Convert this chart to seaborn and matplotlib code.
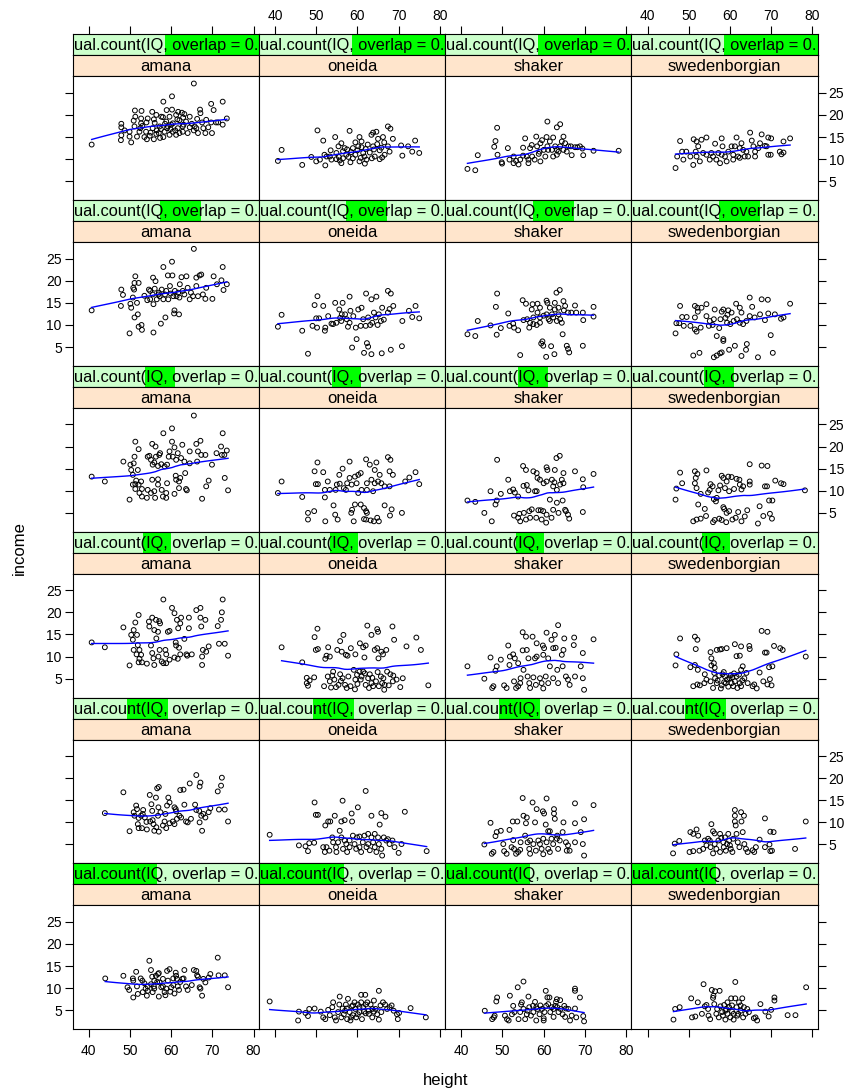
import numpy as np
import matplotlib
matplotlib.use("Agg")
import matplotlib.pyplot as plt
from matplotlib.patches import Rectangle
import seaborn as sns

# ---- data: (height, income) per community and IQ shingle level ----
# level 1 = lowest IQ (bottom row), level 6 = highest IQ (top row)
amana_iq6 = [(40.7,13.3),(47.9,18.0),(47.9,17.2),(48.7,16.5),(47.9,15.4),(47.8,14.3),(50.3,13.8),(49.9,15.1),(51.7,15.1),(49.9,16.2),(51.1,17.4),(50.9,18.7),(51.3,19.6),(51.2,21.0),(52.8,20.9),(52.7,19.2),(52.7,18.1),(52.3,16.2),(53.9,16.2),(54.1,14.5),(54.3,19.2),(54.8,15.3),(55.4,20.7),(55.5,17.0),(55.8,14.5),(56.4,20.0),(56.4,15.7),(57.0,15.9),(57.2,17.4),(57.6,19.6),(58.1,23.0),(58.1,15.0),(58.4,16.2),(58.8,18.5),(58.9,21.1),(59.2,17.4),(59.6,19.6),(59.6,15.5),(60.2,24.2),(60.2,21.2),(60.4,18.1),(60.4,16.2),(61.2,20.0),(61.2,15.5),(61.6,17.0),(61.7,20.7),(62.0,15.9),(62.6,20.5),(62.8,17.4),(62.8,16.2),(62.9,19.4),(63.6,18.5),(64.0,15.9),(64.5,19.6),(65.0,18.0),(65.5,27.1),(65.7,17.4),(66.1,17.0),(66.3,19.1),(66.5,15.9),(67.0,21.2),(67.1,20.4),(67.8,17.0),(68.3,15.9),(68.5,18.9),(69.7,22.5),(69.7,18.3),(69.9,15.9),(70.3,21.1),(70.9,18.3),(71.4,18.3),(72.5,23.0),(72.5,17.8),(73.5,19.2),(53.0,17.5),(56.0,18.2),(57.5,16.8),(59.0,17.0),(60.0,17.8),(61.0,16.5),(62.0,18.8),(63.0,17.8),(64.5,17.2),(58.0,19.5),(55.0,16.0),(56.5,16.5),(52.5,17.0),(54.0,18.3),(55.8,19.0),(58.5,18.0),(59.8,16.8),(61.5,19.0),(63.2,20.2),(65.5,16.5),(67.5,18.3),(69.0,17.2),(53.5,15.0),(57.3,14.8)]
oneida_iq6 = [(40.7,9.6),(41.6,12.1),(46.6,8.7),(50.3,16.5),(51.7,14.2),(48.8,10.5),(50.0,9.5),(50.9,9.9),(52.2,8.6),(52.5,10.6),(54.6,15.0),(55.4,12.9),(54.9,11.4),(56.1,13.6),(58.1,16.4),(56.9,12.5),(56.1,9.1),(57.3,11.0),(58.9,12.5),(60.5,15.0),(60.2,12.9),(61.0,14.0),(61.4,11.4),(62.2,9.9),(63.4,15.5),(63.8,16.0),(64.6,16.2),(65.0,14.6),(63.8,12.9),(65.4,12.0),(66.2,15.0),(67.4,17.4),(68.0,16.9),(68.6,14.6),(67.4,12.9),(67.8,11.7),(66.6,11.0),(70.6,13.1),(70.9,10.8),(72.3,12.9),(73.3,11.7),(74.0,14.2),(75.0,11.4),(58.9,10.2),(60.5,9.5),(61.7,10.6),(64.2,10.6),(65.4,10.0),(54.9,10.0),(53.7,9.9),(53.3,10.6),(56.5,10.2),(55.5,10.5),(56.5,11.8),(57.5,12.2),(58.5,11.6),(59.5,11.0),(60.0,12.0),(61.0,12.7),(62.0,12.3),(63.0,11.5),(64.0,12.2),(64.8,13.4),(65.8,12.6),(66.5,13.8),(62.5,13.3),(59.5,13.8),(57.8,10.5),(60.8,10.3),(63.5,10.2),(66.0,10.4),(55.7,9.7),(58.3,9.3),(61.8,9.0),(53.5,12.0),(52.0,11.0)]
shaker_iq6 = [(41.5,7.8),(43.4,7.5),(44.0,10.9),(48.7,17.1),(48.3,14.1),(48.0,12.8),(48.8,11.0),(51.3,12.5),(49.8,9.3),(49.9,9.0),(51.7,9.9),(52.7,10.6),(52.7,9.1),(53.9,8.8),(55.0,12.6),(55.5,14.7),(55.9,10.6),(56.3,9.1),(56.7,12.5),(57.1,13.2),(58.2,15.1),(58.4,12.9),(58.8,11.2),(59.2,9.5),(60.9,18.5),(60.7,15.0),(60.9,12.9),(61.5,14.0),(62.3,14.9),(63.2,17.2),(64.0,17.9),(62.8,12.9),(62.3,10.6),(64.0,12.9),(64.8,15.1),(65.2,13.6),(66.0,12.9),(66.8,10.9),(67.6,12.7),(68.8,12.9),(69.6,10.9),(69.4,12.4),(72.1,11.9),(78.2,11.9),(57.8,9.9),(57.2,10.6),(59.0,11.7),(60.0,12.1),(60.4,10.6),(63.2,12.1),(63.6,11.7),(64.8,12.1),(65.6,11.7),(63.2,11.0),(54.3,9.9),(55.0,10.8),(53.3,9.6),(56.3,9.9),(59.6,14.3),(59.2,13.6),(61.1,12.1),(62.0,12.1),(64.4,14.0),(66.6,12.9),(68.2,12.7)]
swedenborgian_iq6 = [(46.8,8.0),(47.2,10.6),(47.9,14.1),(48.4,11.7),(49.4,11.7),(48.7,9.9),(50.4,10.6),(51.1,8.7),(51.2,14.5),(51.9,14.0),(52.3,12.9),(51.7,11.7),(51.9,10.6),(53.1,14.4),(54.3,14.9),(52.7,9.5),(54.3,11.0),(55.1,9.9),(56.4,13.5),(57.2,11.4),(58.0,14.7),(58.2,12.9),(57.6,9.1),(58.8,10.6),(59.2,9.5),(59.6,11.7),(60.4,12.9),(60.8,11.0),(61.6,14.9),(62.0,10.6),(62.8,13.6),(63.2,12.1),(63.6,10.6),(64.9,16.0),(65.3,14.2),(65.7,12.9),(66.1,11.7),(66.1,10.6),(67.7,15.6),(69.3,14.9),(70.0,14.7),(68.9,12.9),(69.3,11.0),(69.9,11.0),(72.1,11.7),(72.5,11.1),(73.0,11.5),(73.0,14.0),(74.6,14.7),(60.8,9.9),(62.4,10.3),(64.4,10.6),(64.0,11.7),(55.5,11.4),(55.9,10.6),(56.7,9.9),(53.5,11.4),(66.9,12.5),(67.3,13.6),(68.5,13.0),(62.4,12.5),(61.2,12.9),(58.0,11.0)]

amana_iq5 = [(40.7,13.3),(47.9,18.0),(48.3,16.8),(47.8,14.3),(50.3,13.9),(50.1,14.8),(50.7,16.2),(51.0,18.0),(50.8,18.4),(51.3,21.0),(52.1,19.5),(51.1,19.5),(51.7,15.0),(51.1,11.7),(51.9,12.4),(52.1,9.6),(52.8,10.0),(52.9,8.9),(49.9,8.1),(55.7,8.3),(57.5,10.3),(58.6,11.7),(60.8,13.3),(60.7,12.6),(61.9,12.4),(58.1,23.1),(60.2,24.3),(65.5,27.2),(72.5,23.1),(70.3,21.0),(72.2,20.1),(73.5,19.2),(72.7,17.9),(71.1,19.2),(70.0,15.9),(68.3,15.9),(66.9,21.2),(67.3,21.4),(66.1,20.7),(63.7,21.0),(62.5,20.8),(60.3,21.2),(59.2,21.2),(55.6,20.7),(56.2,19.9),(54.6,18.0),(54.9,17.7),(55.5,16.9),(55.7,14.7),(54.2,15.6),(56.5,15.8),(57.2,16.5),(57.7,18.0),(58.5,16.9),(59.7,18.8),(60.9,17.7),(61.3,16.5),(62.1,19.2),(62.8,17.7),(64.0,18.4),(64.5,15.8),(65.3,16.5),(66.1,18.8),(66.5,16.5),(67.7,16.9),(68.5,18.4),(59.3,15.8),(60.5,16.5),(58.1,15.8),(56.9,16.9),(61.7,17.3),(63.2,16.9),(58.8,17.7),(54.9,15.8),(57.0,17.3),(59.9,17.1),(62.0,16.2),(64.8,17.3),(56.0,18.2),(53.5,16.6)]
oneida_iq5 = [(40.7,9.6),(41.6,12.3),(46.6,8.7),(48.0,3.5),(50.3,16.5),(49.6,14.5),(51.7,14.3),(50.0,11.5),(50.7,11.5),(49.1,9.8),(50.2,9.4),(52.2,9.4),(52.1,8.7),(52.9,12.0),(54.6,15.0),(56.4,15.0),(55.6,13.5),(56.2,12.4),(58.1,16.4),(58.3,13.2),(59.8,6.8),(58.7,4.9),(61.6,3.7),(62.3,5.9),(62.6,5.1),(63.4,3.4),(65.9,3.6),(68.1,4.4),(70.8,5.2),(62.1,17.1),(63.4,15.8),(64.6,16.4),(67.4,17.7),(68.1,17.1),(68.7,14.3),(67.4,12.8),(72.5,13.2),(74.1,14.3),(73.3,11.8),(75.0,11.5),(70.9,10.9),(60.2,13.5),(61.0,13.9),(59.0,12.0),(57.4,11.3),(54.1,10.2),(54.9,10.5),(56.1,10.9),(58.1,10.5),(59.6,9.4),(60.8,9.8),(62.0,9.8),(63.6,10.5),(64.4,11.7),(65.2,12.4),(64.0,12.8),(66.0,13.9),(66.4,11.2),(57.0,12.4),(55.8,11.6),(61.4,11.3),(62.6,11.7),(57.7,9.6),(53.7,10.3),(67.8,13.6),(63.1,10.0),(64.9,10.0),(65.7,10.9)]
shaker_iq5 = [(41.5,7.9),(43.4,7.5),(44.0,10.9),(47.1,9.9),(48.7,17.1),(48.4,14.1),(48.6,7.8),(49.6,9.3),(51.4,12.6),(51.7,9.8),(52.6,10.3),(52.8,9.4),(53.8,8.8),(54.3,3.2),(54.9,15.6),(55.7,14.8),(55.1,11.1),(56.0,11.3),(56.5,9.4),(57.1,13.5),(57.3,14.7),(58.5,14.8),(58.5,12.8),(58.3,10.0),(59.1,10.5),(59.4,5.8),(59.9,5.3),(59.7,6.3),(60.6,2.8),(61.8,5.2),(62.6,3.4),(60.7,15.5),(60.9,15.0),(61.5,13.9),(62.7,15.0),(63.1,17.3),(63.9,17.9),(62.3,11.7),(63.2,10.9),(64.4,10.5),(64.8,15.4),(64.9,13.3),(64.6,7.9),(65.6,5.3),(66.2,3.8),(65.9,4.6),(67.6,14.4),(69.5,12.8),(69.6,11.1),(69.5,5.3),(72.1,14.1),(72.1,11.9),(60.0,12.1),(60.7,12.4),(61.2,11.3),(62.0,12.4),(63.6,12.4),(64.0,11.3),(65.9,12.8),(66.7,12.8),(67.9,12.8),(57.5,10.2),(59.1,13.9),(59.1,11.7),(57.5,11.7),(62.7,13.5),(63.6,13.9),(65.2,14.3),(61.5,10.9),(56.7,10.5)]
swedenborgian_iq5 = [(46.8,8.1),(47.0,10.4),(47.9,14.3),(47.7,10.4),(48.4,11.8),(49.5,11.8),(48.8,9.8),(50.4,9.8),(51.1,3.1),(52.6,3.7),(51.5,14.3),(52.1,13.9),(53.1,13.9),(54.3,14.7),(52.2,13.0),(51.5,11.7),(51.5,9.0),(52.9,9.4),(51.9,8.5),(54.3,12.0),(55.1,10.9),(54.9,9.8),(56.3,13.5),(55.8,10.0),(56.8,7.5),(57.4,9.3),(58.4,6.4),(58.4,6.8),(56.1,2.7),(56.8,3.1),(57.6,3.6),(58.0,3.8),(59.8,4.4),(61.2,5.3),(62.8,3.0),(64.1,5.7),(63.9,4.4),(66.8,2.7),(69.9,7.7),(70.4,3.7),(58.0,13.0),(58.4,13.5),(59.6,13.3),(59.4,12.3),(60.4,12.8),(61.5,14.8),(62.4,13.9),(62.8,12.8),(61.7,11.3),(62.4,10.5),(63.2,10.2),(64.0,10.9),(64.8,16.2),(65.4,14.1),(64.8,12.0),(67.7,15.8),(69.2,15.7),(68.5,11.1),(69.3,12.6),(70.9,12.4),(72.4,11.4),(73.0,11.7),(74.6,14.8),(60.9,10.9),(59.3,10.5),(57.7,11.3),(56.1,11.3),(58.9,11.6),(66.0,11.7),(67.3,12.4),(60.1,10.2)]

amana_iq4 = [(40.7,13.2),(43.9,12.1),(48.4,16.6),(50.1,15.9),(50.3,14.7),(50.7,13.6),(50.9,16.2),(51.3,21.1),(51.1,17.7),(52.1,19.4),(51.9,14.7),(49.9,8.0),(50.7,11.4),(51.3,11.5),(51.5,12.3),(52.1,11.4),(52.7,12.1),(51.3,10.4),(52.3,9.5),(52.9,8.7),(54.1,8.4),(54.3,10.2),(52.9,10.4),(55.1,9.5),(55.9,9.9),(56.1,8.4),(55.4,12.5),(56.8,12.6),(56.8,11.4),(58.0,8.7),(58.8,8.4),(59.0,11.7),(57.7,10.2),(60.8,9.3),(61.1,13.4),(61.2,12.5),(61.9,12.1),(62.2,12.9),(61.9,10.6),(63.4,14.0),(63.6,10.4),(63.8,10.1),(58.1,23.0),(60.2,24.1),(65.5,27.0),(72.5,23.0),(60.2,21.1),(60.8,19.8),(62.7,20.4),(55.4,20.6),(56.2,20.0),(54.3,17.7),(54.7,17.9),(55.1,17.0),(56.3,17.7),(57.1,18.1),(57.3,18.5),(55.5,15.9),(55.9,16.4),(56.8,15.6),(57.6,16.0),(58.4,15.5),(59.0,15.9),(59.4,17.7),(59.6,18.9),(60.4,17.7),(61.2,17.0),(61.6,18.5),(62.4,17.4),(63.2,16.6),(64.5,18.9),(66.1,20.6),(67.1,21.3),(66.5,18.9),(67.3,18.1),(68.3,18.1),(66.3,16.6),(64.5,16.2),(69.9,15.9),(72.1,20.0),(72.3,18.1),(72.9,18.1),(71.0,18.5),(73.5,19.1),(73.0,12.9),(68.5,11.0),(69.1,12.3),(73.8,10.1),(67.5,8.2),(58.8,9.5)]
oneida_iq4 = [(40.7,9.5),(41.6,12.1),(46.6,8.6),(48.0,5.0),(49.5,5.4),(48.0,3.5),(52.2,3.1),(50.3,16.4),(49.6,14.4),(51.7,14.2),(49.9,11.5),(50.4,11.5),(52.1,10.2),(52.1,8.5),(52.8,12.1),(54.2,6.7),(54.6,4.6),(55.2,3.5),(53.3,10.2),(55.0,11.4),(55.7,11.6),(55.6,13.6),(56.4,15.0),(57.2,10.2),(58.1,16.6),(58.1,12.9),(59.4,13.2),(60.2,13.6),(60.8,14.0),(58.6,11.4),(59.8,11.7),(60.2,9.5),(61.0,10.2),(62.1,17.1),(63.0,15.9),(64.6,16.4),(64.2,14.7),(63.4,12.5),(64.2,11.7),(65.0,12.1),(65.8,11.7),(66.6,11.0),(67.8,11.0),(67.4,17.6),(68.0,17.0),(68.6,13.6),(67.8,14.4),(71.6,12.1),(72.6,13.0),(74.1,14.2),(75.0,11.5),(58.5,5.0),(58.7,5.7),(59.4,6.9),(60.8,6.9),(61.6,6.1),(62.1,5.4),(62.3,5.0),(59.1,3.1),(61.6,3.6),(62.1,3.5),(63.2,3.3),(64.0,3.1),(64.8,3.9),(65.2,3.1),(66.6,6.7),(68.3,5.8),(67.9,4.4),(70.8,5.0),(57.5,11.7),(56.7,10.6),(54.7,10.2),(62.3,11.7),(62.3,10.2),(65.4,13.6),(63.8,9.9)]
shaker_iq4 = [(41.5,7.8),(43.4,7.5),(45.6,5.0),(47.4,3.1),(47.1,9.9),(48.3,6.9),(48.6,7.8),(48.7,17.0),(49.6,9.3),(51.4,12.5),(51.8,9.9),(52.6,10.3),(53.0,9.6),(53.8,8.7),(52.8,4.4),(54.3,3.1),(54.1,4.8),(55.0,15.6),(55.1,11.1),(55.9,11.3),(55.7,14.7),(56.3,10.1),(56.7,3.9),(57.1,5.8),(57.5,14.4),(58.3,14.0),(58.3,9.9),(58.5,12.9),(59.1,12.5),(59.3,5.6),(59.9,5.4),(60.6,2.8),(60.7,15.3),(60.9,14.7),(61.5,8.0),(62.7,14.7),(63.1,17.4),(63.9,17.9),(62.6,11.9),(63.2,10.2),(64.0,11.4),(64.6,7.8),(64.8,14.0),(65.4,5.4),(66.2,3.7),(65.9,4.6),(67.6,14.4),(69.5,12.6),(69.6,10.8),(69.5,5.2),(72.1,13.8),(60.0,11.7),(60.7,12.1),(62.0,12.5),(62.3,11.0),(64.4,12.5),(64.8,11.7),(57.9,9.9),(59.5,3.5),(61.9,3.9),(63.2,7.3),(63.6,5.0),(65.2,5.7),(58.2,3.9),(55.2,5.0),(56.5,5.4),(58.7,5.6),(60.7,4.6),(62.3,5.7),(55.7,3.5),(53.8,3.9)]
swedenborgian_iq4 = [(46.8,8.0),(47.0,10.5),(47.9,14.1),(48.4,11.7),(51.5,14.4),(52.1,13.8),(51.7,12.9),(54.3,14.6),(51.5,11.7),(51.9,10.6),(52.9,9.3),(51.1,3.1),(51.9,3.5),(52.9,3.7),(54.2,4.3),(52.3,6.9),(53.9,5.9),(54.7,9.6),(55.3,11.5),(55.8,11.0),(56.1,8.1),(56.6,7.6),(56.8,8.4),(58.4,6.3),(58.6,5.9),(59.2,5.0),(59.8,5.4),(55.9,2.9),(56.3,3.4),(57.4,3.7),(58.0,3.4),(59.1,2.9),(60.6,3.5),(61.4,3.9),(62.0,5.2),(62.8,3.1),(63.6,4.2),(64.2,5.6),(66.8,2.6),(67.2,6.5),(68.1,4.3),(69.7,4.8),(70.2,3.7),(69.5,7.8),(70.3,7.8),(78.2,10.1),(58.0,13.4),(58.4,12.9),(59.6,13.2),(59.2,12.1),(60.4,13.1),(61.6,12.7),(62.3,12.5),(62.4,11.4),(63.2,11.0),(61.0,10.4),(59.8,9.9),(62.8,10.3),(64.8,16.0),(64.8,12.1),(64.8,11.4),(67.7,15.7),(69.1,15.6),(68.5,11.0),(69.0,11.0),(71.0,12.3),(72.4,11.7),(73.0,11.5),(57.6,11.2),(57.2,10.1),(58.8,10.6),(55.1,10.2)]

amana_iq3 = [(40.7,13.2),(43.9,12.1),(48.4,16.6),(49.9,8.0),(50.3,14.9),(50.7,13.8),(50.9,16.0),(51.3,17.7),(51.7,14.9),(52.1,19.4),(50.9,11.5),(51.9,12.6),(52.3,11.5),(51.6,10.5),(52.7,10.4),(52.3,9.5),(52.9,8.7),(52.1,8.7),(54.1,8.4),(54.6,17.9),(54.7,16.8),(55.1,12.5),(55.4,10.8),(55.7,9.6),(55.9,8.1),(55.4,18.8),(56.3,18.3),(57.1,18.0),(57.3,17.5),(55.9,16.0),(56.8,15.6),(56.4,14.1),(57.2,11.5),(56.9,10.0),(57.7,8.9),(58.1,8.5),(58.8,8.5),(58.6,11.5),(58.1,22.9),(60.2,21.0),(60.8,19.8),(61.4,18.3),(61.7,16.4),(62.2,17.5),(62.4,18.8),(59.2,15.6),(59.6,15.8),(61.1,13.2),(61.2,12.5),(61.9,12.0),(62.2,10.5),(61.6,9.5),(60.8,9.8),(63.7,10.5),(63.9,10.2),(63.2,14.0),(64.3,16.4),(64.3,18.8),(66.1,20.5),(67.1,21.0),(67.1,18.8),(68.3,18.3),(67.3,16.8),(67.7,11.5),(69.1,12.3),(68.5,11.1),(67.5,10.0),(67.5,8.1),(65.0,10.5),(71.3,16.9),(72.1,18.3),(72.3,20.0),(72.5,22.9),(71.6,12.9),(73.0,12.9),(73.8,10.2),(58.8,10.5),(59.6,9.3)]
oneida_iq3 = [(41.6,12.1),(46.6,8.7),(47.7,5.2),(48.4,4.6),(49.5,5.3),(47.7,4.0),(48.0,3.4),(50.3,16.3),(49.6,14.4),(49.9,11.5),(50.4,11.7),(52.2,9.5),(52.9,12.1),(52.5,10.2),(53.3,10.0),(51.9,3.3),(53.3,4.4),(54.1,6.6),(53.9,5.7),(54.4,4.8),(54.8,3.1),(55.4,3.6),(55.8,6.0),(56.4,5.1),(57.0,3.6),(57.4,2.9),(55.1,11.5),(55.8,13.5),(56.6,14.9),(57.2,10.4),(58.4,11.9),(59.5,10.5),(59.1,7.0),(59.9,5.9),(59.5,4.8),(60.5,6.6),(61.0,5.5),(61.4,6.6),(62.0,3.6),(62.6,5.1),(63.0,6.0),(63.4,4.0),(63.8,3.3),(64.5,4.4),(65.2,3.3),(65.7,5.5),(66.0,4.0),(66.5,2.5),(66.6,3.6),(67.2,6.6),(68.0,6.0),(68.7,5.7),(68.6,4.4),(70.4,3.1),(71.0,5.1),(77.2,3.5),(60.6,13.0),(61.4,12.1),(62.0,12.5),(62.4,17.0),(63.4,14.9),(64.8,16.2),(65.0,15.6),(64.2,11.5),(64.8,11.9),(65.8,11.1),(66.2,10.5),(67.0,11.5),(68.5,16.8),(68.9,13.8),(71.9,12.3),(74.3,14.3),(75.4,11.5),(61.7,9.8),(65.1,9.6),(56.2,11.1),(57.6,10.2),(52.8,5.5),(53.6,3.0),(56.0,4.5),(57.8,5.5),(58.3,3.3),(60.0,3.8),(60.8,4.8),(61.8,6.2),(63.6,5.2),(64.9,6.5),(66.3,5.1),(67.6,3.5),(69.5,4.8),(59.4,2.6),(62.8,2.9)]
shaker_iq3 = [(41.5,7.8),(45.6,5.0),(47.1,9.8),(48.3,6.8),(48.6,7.8),(47.8,3.3),(47.5,2.9),(49.6,9.3),(50.4,3.5),(51.0,2.9),(51.4,12.5),(51.7,8.1),(51.8,10.0),(52.6,10.5),(52.8,4.4),(53.0,9.6),(53.8,8.5),(53.8,3.3),(54.3,4.0),(54.4,5.1),(55.1,7.0),(54.9,11.4),(54.9,15.5),(55.7,14.5),(55.9,11.5),(56.3,9.6),(56.1,5.5),(56.5,4.0),(57.3,14.5),(57.5,5.3),(57.9,9.6),(58.3,10.0),(58.3,13.0),(58.1,3.6),(59.1,5.1),(59.5,4.0),(59.8,12.5),(59.9,2.8),(60.1,11.9),(60.7,15.4),(60.5,5.5),(61.1,4.0),(61.5,7.8),(61.9,13.8),(62.3,11.9),(62.3,5.1),(62.7,14.9),(62.9,12.0),(63.3,7.0),(63.5,17.1),(63.5,4.0),(64.4,10.4),(64.8,11.5),(64.6,7.8),(65.0,14.1),(65.4,5.5),(65.9,4.8),(66.3,3.6),(67.4,14.3),(67.3,12.6),(67.6,5.5),(69.5,10.8),(69.5,5.1),(69.8,2.5),(72.1,13.9),(69.0,7.8),(59.9,10.4),(61.1,9.6),(56.7,2.9),(53.3,2.9)]
swedenborgian_iq3 = [(46.8,8.0),(47.0,10.5),(47.9,14.1),(50.4,7.6),(51.5,14.5),(52.1,13.8),(51.7,11.7),(51.5,8.1),(52.2,7.0),(51.1,3.3),(52.1,3.7),(52.7,3.5),(53.8,4.0),(54.3,4.8),(53.9,6.0),(55.5,9.6),(55.5,8.0),(56.1,8.5),(56.3,7.5),(55.3,11.0),(56.8,11.5),(58.0,11.7),(59.2,11.9),(61.2,12.8),(61.6,10.1),(62.4,10.2),(62.7,12.3),(64.7,12.4),(64.8,11.7),(63.1,7.8),(62.7,7.0),(55.9,2.9),(56.8,4.0),(56.4,5.1),(57.4,5.7),(58.2,6.0),(58.5,6.5),(58.8,5.5),(58.0,3.5),(59.0,4.0),(59.3,4.8),(59.9,5.1),(60.4,4.0),(60.8,3.3),(61.2,4.4),(61.6,5.5),(62.4,4.0),(62.7,3.3),(63.5,5.1),(64.3,4.0),(65.5,3.3),(65.9,3.7),(66.5,2.8),(67.2,6.4),(68.1,4.4),(69.1,3.7),(69.7,4.9),(70.1,3.5),(69.5,7.6),(70.3,7.8),(70.7,12.4),(72.2,11.9),(72.8,11.5),(68.5,10.9),(68.9,10.9),(67.7,15.8),(69.1,15.6),(78.4,10.0),(57.6,11.6),(55.3,4.4),(57.0,4.6),(57.8,2.8),(58.6,4.2),(59.6,3.2),(60.2,5.8),(61.0,6.2),(61.8,2.9),(62.2,5.9),(63.0,4.6),(64.0,6.3),(56.2,6.3),(60.6,5.3)]

amana_iq2 = [(43.9,12.1),(48.4,16.8),(49.9,8.0),(50.9,12.3),(51.5,13.8),(51.7,13.0),(51.1,11.5),(52.1,11.0),(51.9,9.6),(52.1,8.7),(52.9,8.7),(52.7,11.5),(53.1,11.9),(53.6,11.1),(54.1,8.4),(54.8,16.2),(55.2,14.1),(55.4,12.6),(54.9,10.2),(55.7,9.6),(55.9,8.1),(55.5,10.5),(56.3,15.6),(56.6,17.7),(57.0,18.0),(56.9,13.4),(56.8,11.5),(56.4,8.9),(57.0,7.9),(58.0,9.3),(58.6,11.9),(58.8,8.7),(59.3,15.6),(59.6,14.5),(59.0,13.8),(60.8,13.4),(61.1,13.0),(61.2,12.5),(60.8,9.6),(61.4,10.8),(62.0,11.5),(62.2,17.3),(63.0,17.4),(63.2,14.0),(63.6,10.2),(64.0,10.0),(64.5,18.8),(64.8,10.8),(66.1,20.7),(65.8,14.0),(66.1,12.8),(66.8,12.6),(66.9,18.1),(67.1,19.0),(67.3,11.5),(66.9,10.0),(67.5,8.1),(67.8,11.9),(68.3,11.1),(69.1,12.3),(69.5,13.2),(71.3,17.0),(72.1,18.3),(72.3,20.1),(71.6,12.9),(73.0,12.9),(73.8,10.2),(57.4,12.3),(58.4,10.2),(59.6,9.8),(60.4,10.2),(54.0,10.1),(53.2,12.8),(62.4,11.1)]
oneida_iq2 = [(38.7,7.2),(45.8,4.8),(47.4,4.6),(48.0,3.5),(48.3,5.3),(49.5,5.4),(49.6,14.5),(49.9,11.7),(50.4,11.7),(51.7,4.4),(52.2,9.3),(52.1,3.3),(52.9,10.2),(53.4,10.2),(53.9,6.6),(54.1,5.5),(54.5,11.5),(54.9,3.3),(54.8,4.4),(55.3,5.5),(55.7,8.1),(56.1,10.2),(56.4,14.9),(56.9,10.5),(56.5,4.0),(56.9,5.9),(57.3,5.1),(57.5,3.3),(58.1,4.4),(58.6,12.0),(58.7,10.2),(58.9,7.0),(59.3,5.1),(59.7,4.0),(60.1,13.4),(59.9,6.6),(60.5,4.4),(60.9,3.3),(61.3,5.5),(61.7,7.0),(62.0,17.1),(62.2,4.4),(62.6,5.1),(63.0,3.7),(63.4,11.5),(63.4,6.6),(63.8,5.5),(64.2,4.4),(64.6,3.3),(65.0,6.6),(65.2,5.1),(65.4,9.5),(65.8,12.1),(65.8,4.0),(66.0,2.5),(66.4,6.6),(66.8,11.3),(67.0,5.9),(67.4,6.2),(67.8,5.1),(68.5,5.9),(69.0,4.4),(70.0,3.1),(70.7,5.1),(71.5,12.4),(76.8,3.5),(60.5,6.8),(58.1,5.9),(56.1,6.6),(53.2,3.6),(52.5,4.4),(62.6,7.4),(64.2,7.4)]
shaker_iq2 = [(45.6,5.0),(47.1,9.9),(48.3,6.9),(48.6,7.8),(47.8,3.3),(47.4,2.9),(50.4,3.5),(51.0,2.9),(51.7,8.3),(52.6,6.0),(52.2,4.4),(52.8,4.0),(53.6,10.2),(53.8,3.3),(54.3,3.8),(54.4,5.5),(54.9,15.5),(55.1,11.5),(55.5,7.0),(55.9,11.1),(55.7,9.8),(56.1,5.5),(56.5,4.0),(56.7,5.9),(57.3,14.5),(57.5,5.1),(57.9,10.0),(58.1,3.6),(58.3,13.0),(59.1,5.1),(59.5,4.0),(59.8,12.5),(59.9,2.8),(60.1,12.0),(60.5,9.5),(60.7,15.4),(60.7,5.5),(61.1,4.0),(61.1,8.0),(61.5,8.0),(62.3,5.1),(62.5,13.0),(62.5,12.0),(62.7,10.8),(63.3,7.0),(63.2,6.3),(63.5,4.0),(64.6,7.8),(64.8,10.0),(65.4,5.5),(65.9,4.8),(66.3,3.6),(67.6,14.3),(67.6,9.8),(67.6,5.5),(69.0,7.8),(69.5,5.1),(69.8,10.7),(69.8,2.5),(72.1,13.9),(49.6,8.1),(50.2,5.1),(56.7,2.9),(53.3,2.9),(58.7,5.9),(61.9,6.3),(63.9,5.9),(59.9,6.3),(52.5,10.2),(61.5,3.3),(65.6,3.6)]
swedenborgian_iq2 = [(46.2,3.0),(46.6,5.2),(47.7,5.8),(50.4,7.8),(51.1,3.5),(51.9,8.4),(52.3,7.0),(52.6,3.6),(53.5,4.0),(53.9,5.9),(54.3,4.8),(54.7,6.3),(55.3,4.4),(55.5,9.6),(55.9,8.0),(56.3,7.5),(55.9,3.0),(56.7,4.0),(56.3,5.1),(57.2,5.9),(57.6,3.3),(57.9,6.5),(58.4,5.5),(58.5,4.4),(59.0,3.6),(59.3,5.1),(59.8,5.9),(60.2,4.0),(60.6,3.3),(61.2,12.8),(61.2,11.5),(61.2,10.2),(61.4,9.3),(61.6,7.4),(61.9,5.5),(62.3,4.4),(62.7,12.3),(62.8,10.2),(63.1,7.8),(63.4,11.5),(63.5,5.1),(63.9,4.0),(64.3,3.3),(65.5,3.7),(65.9,3.3),(66.3,4.4),(67.2,6.1),(68.5,10.9),(68.5,4.4),(69.8,3.5),(70.2,3.6),(69.8,7.9),(70.6,7.8),(69.6,5.0),(75.8,4.0),(78.4,10.2),(55.1,5.9),(57.6,7.4),(58.8,6.6),(60.0,4.8),(60.8,6.3),(51.1,7.4),(50.2,3.3),(59.6,7.4)]

amana_iq1 = [(44.0,12.2),(48.4,12.8),(49.4,10.2),(49.8,9.6),(50.8,7.9),(50.7,12.2),(50.8,11.7),(51.5,13.7),(51.7,10.4),(51.9,8.7),(52.6,12.2),(53.0,11.7),(53.5,11.1),(53.8,9.9),(54.1,8.3),(54.3,9.4),(54.7,16.2),(55.1,14.1),(55.4,12.6),(55.1,10.9),(55.5,9.1),(55.9,9.9),(56.3,12.8),(56.6,11.4),(56.8,13.2),(57.0,13.4),(57.0,8.1),(57.6,10.2),(58.0,10.4),(58.4,9.1),(58.6,8.4),(58.8,9.9),(59.0,13.9),(59.2,11.7),(59.6,14.3),(60.0,10.2),(60.5,10.7),(60.8,8.8),(61.1,13.5),(61.2,12.8),(61.4,12.1),(61.6,10.4),(61.9,9.6),(62.2,11.4),(62.7,12.1),(63.0,12.2),(63.2,14.1),(63.6,10.4),(64.0,9.6),(65.0,10.7),(65.5,14.1),(66.1,13.9),(66.3,12.9),(66.5,12.6),(66.9,10.2),(67.1,9.9),(67.5,8.3),(67.8,12.1),(68.3,11.3),(69.1,12.4),(69.5,13.2),(71.3,16.9),(71.5,12.9),(73.0,12.9),(73.8,10.2),(57.2,11.3),(58.0,12.1),(55.9,11.7),(54.3,10.4),(60.5,12.2),(53.1,9.1),(55.8,10.4),(59.8,9.2)]
oneida_iq1 = [(38.7,7.0),(45.6,2.7),(45.8,4.7),(47.4,4.4),(48.0,3.7),(48.3,5.3),(49.6,5.4),(51.1,4.7),(51.7,3.4),(52.2,3.0),(52.9,5.1),(53.3,3.9),(53.9,5.7),(54.1,6.8),(54.5,3.4),(54.8,2.7),(55.3,4.6),(55.6,6.3),(55.7,8.1),(56.1,3.4),(56.4,5.4),(56.7,4.1),(57.2,6.3),(57.5,3.0),(57.7,7.6),(58.1,4.6),(58.3,2.7),(58.6,5.9),(58.9,3.9),(59.3,6.8),(59.5,5.3),(59.7,3.4),(60.1,6.3),(60.5,4.6),(60.9,8.5),(60.9,6.8),(61.1,3.0),(61.4,5.7),(61.9,8.5),(62.0,4.3),(62.4,6.8),(62.7,4.9),(63.2,6.3),(63.6,3.4),(64.0,7.2),(64.4,5.3),(64.8,4.1),(65.2,9.4),(65.2,2.9),(65.6,6.1),(65.8,4.6),(66.2,6.8),(66.7,6.3),(67.2,5.3),(67.8,5.7),(68.3,6.1),(68.8,4.9),(69.6,4.1),(69.8,3.0),(70.1,4.4),(72.9,5.5),(76.6,3.4),(57.4,5.4),(58.5,3.4),(60.1,4.1),(61.6,4.7),(62.8,4.2),(64.0,4.7),(57.0,4.9),(58.9,6.1),(60.5,5.7),(62.0,6.3),(63.6,5.3)]
shaker_iq1 = [(45.7,4.9),(47.5,3.0),(47.9,3.4),(48.1,3.8),(48.5,7.0),(48.7,7.9),(50.6,3.8),(51.1,3.0),(51.5,2.7),(51.8,8.3),(52.3,4.1),(52.6,6.0),(52.9,4.6),(53.7,10.2),(53.9,3.0),(54.3,4.6),(54.5,6.3),(54.7,6.8),(55.1,11.5),(55.1,5.3),(55.5,3.0),(55.9,4.1),(56.3,8.1),(56.5,5.7),(56.9,3.8),(57.4,6.0),(57.5,4.6),(57.9,6.9),(58.2,2.7),(58.5,5.3),(59.0,4.1),(59.2,6.1),(59.6,5.3),(60.0,3.2),(60.0,2.7),(60.2,4.6),(60.5,9.4),(60.6,6.0),(60.9,7.9),(61.4,7.9),(61.6,4.6),(62.0,5.7),(62.4,3.5),(62.8,6.0),(63.0,6.9),(63.2,7.5),(63.3,5.7),(63.6,4.6),(64.0,7.3),(64.1,5.3),(64.6,4.1),(65.2,3.5),(65.4,5.4),(66.0,5.3),(66.4,2.7),(66.8,3.8),(67.6,9.9),(67.6,9.4),(67.9,3.4),(67.6,5.4),(68.8,7.9),(69.6,3.7),(69.8,2.5),(58.2,5.7),(61.1,6.4),(56.1,4.9),(65.0,6.0),(62.4,5.3)]
swedenborgian_iq1 = [(46.3,2.9),(46.7,5.3),(47.8,5.7),(50.6,7.7),(50.8,3.4),(51.6,3.6),(52.2,6.8),(53.2,4.2),(53.6,10.9),(53.9,5.9),(54.3,6.2),(54.7,5.3),(54.8,3.8),(55.2,3.0),(55.6,9.6),(55.9,7.8),(56.0,8.3),(56.4,9.3),(56.2,6.4),(56.7,4.2),(56.9,5.3),(57.3,3.4),(57.5,9.4),(57.7,5.9),(58.1,4.6),(58.3,3.8),(58.6,6.2),(58.9,2.9),(59.1,5.3),(59.4,4.2),(59.8,5.7),(60.1,3.4),(60.3,7.7),(60.5,4.7),(60.9,2.9),(61.3,11.4),(61.3,7.7),(61.6,5.7),(61.8,3.8),(62.0,4.2),(62.2,6.8),(62.6,4.9),(63.0,7.7),(63.2,3.4),(63.4,5.7),(63.8,4.2),(64.2,5.3),(64.6,4.6),(65.8,3.2),(66.2,3.4),(66.6,2.7),(67.4,6.4),(68.6,4.7),(69.4,3.6),(70.0,5.1),(70.8,7.9),(70.8,7.2),(74.0,3.9),(75.9,3.9),(78.5,10.2),(58.9,4.9),(60.5,6.1),(62.6,6.1),(59.4,6.8),(60.9,4.2)]

communities = ["amana", "oneida", "shaker", "swedenborgian"]
# extent of each IQ interval (dark green bar) as a fraction of the full IQ range, level 1..6
iq_lo = [0.0, 0.29, 0.38, 0.39, 0.47, 0.497]
iq_hi = [0.455, 0.51, 0.53, 0.55, 0.69, 1.0]
# the shingle name is wider than a strip, only this middle part shows
strip_label = "ual.count(IQ, overlap = 0."

panel_data = {}
for name in communities:
    for lev in range(1, 7):
        panel_data[(name, lev)] = globals()[f"{name}_iq{lev}"]


def loess_curve(x, y, span=2/3, n_eval=50, iterations=4):
    """degree-1 local regression with tricube weights and bisquare robustness"""
    x = np.asarray(x, float)
    y = np.asarray(y, float)
    q = max(int(np.floor(len(x) * span)), 3)
    robust = np.ones(len(x))

    def fit_at(x0):
        d = np.abs(x - x0)
        h = max(np.sort(d)[q - 1], 1e-9)
        w = (1 - np.clip(d / h, 0, 1) ** 3) ** 3 * robust
        sw = w.sum()
        xm = (w * x).sum() / sw
        ym = (w * y).sum() / sw
        sxx = (w * (x - xm) ** 2).sum()
        b = (w * (x - xm) * (y - ym)).sum() / sxx if sxx > 0 else 0.0
        return ym + b * (x0 - xm)

    for _ in range(iterations):
        res = y - np.array([fit_at(v) for v in x])
        s = np.median(np.abs(res))
        u = res / (6 * s)
        robust = np.where(np.abs(u) < 1, (1 - u ** 2) ** 2, 0.0)
    grid = np.linspace(x.min(), x.max(), n_eval)
    return grid, np.array([fit_at(v) for v in grid])


plt.rcParams["font.family"] = ["Liberation Sans", "DejaVu Sans"]

W, H = 849, 1091
LEFT, COLW = 72.7, 186.25
TOP, PITCH, STRIP = 34.3, 165.8, 21.0
XLIM = (36.1, 81.3)
YLIM = (0.75, 28.73)
TICK_LEN = 5.8

fig = plt.figure(figsize=(W / 100, H / 100), dpi=100)


def px_axes(x0, y0, w, h):
    return fig.add_axes([x0 / W, 1 - (y0 + h) / H, w / W, h / H])


def frame(ax):
    for sp in ax.spines.values():
        sp.set_color("black")
        sp.set_linewidth(0.8)


for r in range(6):
    lev = 6 - r
    y0 = TOP + r * PITCH
    for c, name in enumerate(communities):
        x0 = LEFT + c * COLW

        # shingle strip (IQ)
        sax = px_axes(x0, y0, COLW, STRIP)
        sax.set_xlim(*XLIM)
        sax.set_ylim(0, 1)
        sax.set_facecolor("#ccffcc")
        sax.add_patch(Rectangle((iq_lo[lev - 1], 0), iq_hi[lev - 1] - iq_lo[lev - 1], 1,
                                transform=sax.transAxes, facecolor="#00ff00", edgecolor="none"))
        sax.text(0.5, 0.45, strip_label, transform=sax.transAxes, ha="center", va="center",
                 fontsize=11.8, clip_on=True)
        sax.set_yticks([])
        if r == 0:
            sax.set_xticks([40, 50, 60, 70, 80])
            sax.tick_params(axis="x", top=True, bottom=False, labelbottom=False,
                            labeltop=(c % 2 == 1), direction="out", length=TICK_LEN,
                            width=0.8, labelsize=10, pad=2)
        else:
            sax.set_xticks([])
        frame(sax)

        # factor strip (community)
        fax = px_axes(x0, y0 + STRIP, COLW, STRIP)
        fax.set_facecolor("#ffe5cc")
        fax.text(0.5, 0.45, name, transform=fax.transAxes, ha="center", va="center",
                 fontsize=12, clip_on=True)
        fax.set_xticks([])
        fax.set_yticks([])
        frame(fax)

        # panel
        ax = px_axes(x0, y0 + 2 * STRIP, COLW, PITCH - 2 * STRIP)
        pts = np.array(panel_data[(name, lev)])
        sns.scatterplot(x=pts[:, 0], y=pts[:, 1], ax=ax, marker="o", s=12,
                        facecolors="none", edgecolors="black", linewidths=0.7, legend=False)
        gx, gy = loess_curve(pts[:, 0], pts[:, 1])
        sns.lineplot(x=gx, y=gy, ax=ax, color="#0000ff", linewidth=1.0,
                     sort=False, estimator=None)
        ax.set_xlim(*XLIM)
        ax.set_ylim(*YLIM)
        ax.set_xticks([40, 50, 60, 70, 80])
        ax.set_yticks([5, 10, 15, 20, 25])
        ax.set_xlabel("")
        ax.set_ylabel("")
        ax.tick_params(axis="both", direction="out", length=TICK_LEN, width=0.8,
                       labelsize=10, pad=2, top=False, bottom=(r == 5),
                       labeltop=False, labelbottom=(r == 5 and c % 2 == 0),
                       left=(c == 0), labelleft=(c == 0 and r % 2 == 1),
                       right=(c == 3), labelright=(c == 3 and r % 2 == 0))
        ax.tick_params(axis="x", pad=5)
        frame(ax)

fig.text(19 / W, 1 - 548 / H, "income", rotation=90, ha="center", va="center", fontsize=12)
fig.text((LEFT + 2 * COLW) / W, 1 - 1080 / H, "height", ha="center", va="center", fontsize=12)

fig.savefig("out.png", dpi=100)
